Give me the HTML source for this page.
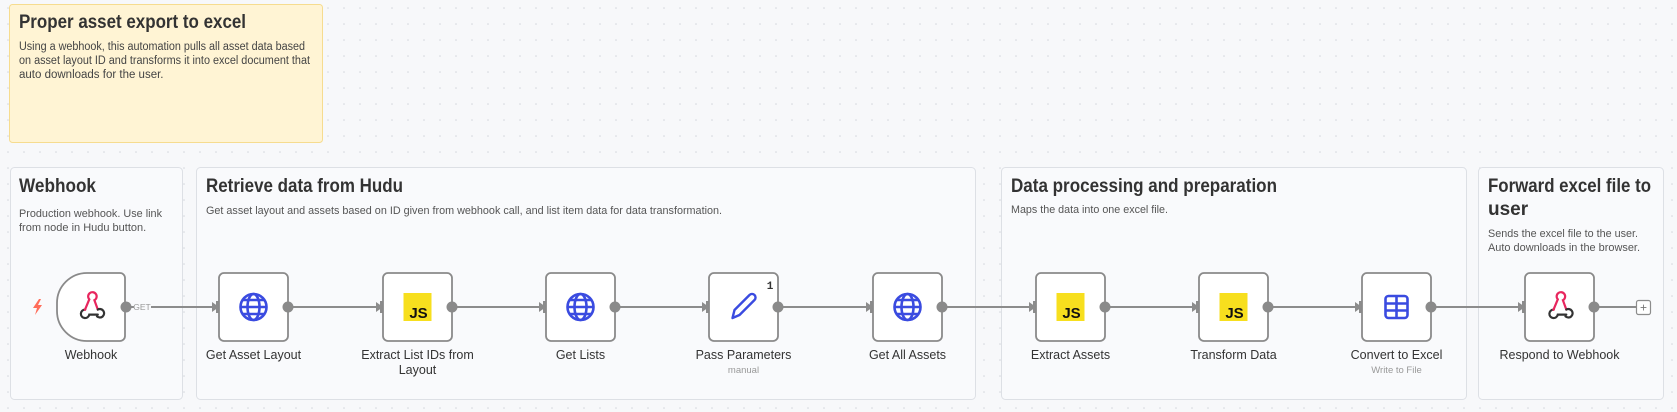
<!DOCTYPE html>
<html><head><meta charset="utf-8"><style>
html,body{margin:0;padding:0;background:#f7f8fa;}
svg{display:block;font-family:"Liberation Sans",sans-serif;}
</style></head><body>
<svg width="1677" height="412" viewBox="0 0 1677 412" xmlns="http://www.w3.org/2000/svg">
<defs>
<pattern id="dots" width="16" height="16" patternUnits="userSpaceOnUse"><circle cx="8" cy="8" r="0.8" fill="#d3d6dc"/></pattern>
<g id="globe" fill="none" stroke="#3a4be0" stroke-width="2.6"><circle cx="0" cy="0" r="13"/><ellipse cx="0" cy="0" rx="6" ry="13"/><line x1="-13" y1="0" x2="13" y2="0"/><path d="M-11 -7 H11 M-11 7 H11"/></g>
<g id="js"><rect x="-14" y="-14" width="28" height="28" fill="#f7df1e"/><text x="1" y="11" font-size="15" font-weight="700" text-anchor="middle" fill="#111">JS</text></g>
<g id="hook" fill="none" stroke-width="2.6" stroke-linecap="round" transform="scale(0.85)"><path d="M-2 -9 a5 5 0 1 1 6 1 L8 3" stroke="#e8265e"/><path d="M-2 -9 L-7 3" stroke="#e8265e"/><path d="M-7 3 a5 5 0 1 0 5 6 H8" stroke="#333"/><path d="M8 3 a5 5 0 1 1 -1 8" stroke="#333"/><circle cx="-7" cy="3" r="1.5" fill="#e8265e" stroke="none"/></g>
</defs>
<rect width="1677" height="412" fill="#f7f8fa"/>
<rect width="1677" height="412" fill="url(#dots)"/>

<!-- sticky -->
<rect x="9.5" y="4.5" width="313" height="138" rx="3" fill="#fff4d4" stroke="#f6dc8f"/>
<text x="19" y="28" font-size="19" font-weight="700" fill="#333" textLength="227" lengthAdjust="spacingAndGlyphs">Proper asset export to excel</text>
<g font-size="11.5" fill="#444">
<text x="19" y="50" textLength="286" lengthAdjust="spacingAndGlyphs">Using a webhook, this automation pulls all asset data based</text>
<text x="19" y="64" textLength="291" lengthAdjust="spacingAndGlyphs">on asset layout ID and transforms it into excel document that</text>
<text x="19" y="78">auto downloads for the user.</text>
</g>

<!-- groups -->
<g fill="#f9fafc" stroke="#dde0e5">
<rect x="10.5" y="167.5" width="172" height="232" rx="4"/>
<rect x="196.5" y="167.5" width="779" height="232" rx="4"/>
<rect x="1001.5" y="167.5" width="465" height="232" rx="4"/>
<rect x="1478.5" y="167.5" width="185" height="232" rx="4"/>
</g>
<g font-size="19" font-weight="700" fill="#333">
<text x="19" y="192" textLength="77" lengthAdjust="spacingAndGlyphs">Webhook</text>
<text x="206" y="192" textLength="197" lengthAdjust="spacingAndGlyphs">Retrieve data from Hudu</text>
<text x="1011" y="192" textLength="266" lengthAdjust="spacingAndGlyphs">Data processing and preparation</text>
<text x="1488" y="192" textLength="163" lengthAdjust="spacingAndGlyphs">Forward excel file to</text>
<text x="1488" y="215">user</text>
</g>
<g font-size="11" fill="#555">
<text x="19" y="217" textLength="143" lengthAdjust="spacingAndGlyphs">Production webhook. Use link</text>
<text x="19" y="231">from node in Hudu button.</text>
<text x="206" y="214" textLength="516" lengthAdjust="spacingAndGlyphs">Get asset layout and assets based on ID given from webhook call, and list item data for data transformation.</text>
<text x="1011" y="213" textLength="157" lengthAdjust="spacingAndGlyphs">Maps the data into one excel file.</text>
<text x="1488" y="237" textLength="150" lengthAdjust="spacingAndGlyphs">Sends the excel file to the user.</text>
<text x="1488" y="251" textLength="152" lengthAdjust="spacingAndGlyphs">Auto downloads in the browser.</text>
</g>

<!-- connectors -->
<g stroke="#8c8c8c" stroke-width="2" fill="none">
<line x1="126" y1="307" x2="134" y2="307"/><line x1="151" y1="307" x2="214" y2="307"/>
<line x1="288" y1="307" x2="378" y2="307"/>
<line x1="452" y1="307" x2="541" y2="307"/>
<line x1="615" y1="307" x2="704" y2="307"/>
<line x1="778" y1="307" x2="868" y2="307"/>
<line x1="942" y1="307" x2="1031" y2="307"/>
<line x1="1105" y1="307" x2="1194" y2="307"/>
<line x1="1268" y1="307" x2="1357" y2="307"/>
<line x1="1431" y1="307" x2="1520" y2="307"/>
<line x1="1594" y1="307" x2="1636" y2="307"/>
</g>
<text x="142" y="310" font-size="8.5" fill="#999" text-anchor="middle">GET</text>
<g fill="#8c8c8c">
<polygon points="212,302 219,307 212,312"/><rect x="216" y="301" width="4" height="12"/>
<polygon points="376,302 383,307 376,312"/><rect x="380" y="301" width="4" height="12"/>
<polygon points="539,302 546,307 539,312"/><rect x="543" y="301" width="4" height="12"/>
<polygon points="702,302 709,307 702,312"/><rect x="706" y="301" width="4" height="12"/>
<polygon points="866,302 873,307 866,312"/><rect x="870" y="301" width="4" height="12"/>
<polygon points="1029,302 1036,307 1029,312"/><rect x="1033" y="301" width="4" height="12"/>
<polygon points="1192,302 1199,307 1192,312"/><rect x="1196" y="301" width="4" height="12"/>
<polygon points="1355,302 1362,307 1355,312"/><rect x="1359" y="301" width="4" height="12"/>
<polygon points="1518,302 1525,307 1518,312"/><rect x="1522" y="301" width="4" height="12"/>
</g>
<rect x="1636.5" y="300.5" width="14" height="14" rx="2" fill="#fff" stroke="#8c8c8c" stroke-width="1.2"/>
<text x="1643.5" y="311.5" font-size="12" fill="#777" text-anchor="middle">+</text>

<!-- nodes -->
<g fill="#fff" stroke="#8a8a8a" stroke-width="1.8">
<path d="M87 273 H120 a5 5 0 0 1 5 5 V336 a5 5 0 0 1 -5 5 H87 a30 30 0 0 1 -30 -30 V303 a30 30 0 0 1 30 -30 Z"/>
<rect x="219" y="273" width="69" height="68" rx="5"/>
<rect x="383" y="273" width="69" height="68" rx="5"/>
<rect x="546" y="273" width="69" height="68" rx="5"/>
<rect x="709" y="273" width="69" height="68" rx="5"/>
<rect x="873" y="273" width="69" height="68" rx="5"/>
<rect x="1036" y="273" width="69" height="68" rx="5"/>
<rect x="1199" y="273" width="69" height="68" rx="5"/>
<rect x="1362" y="273" width="69" height="68" rx="5"/>
<rect x="1525" y="273" width="69" height="68" rx="5"/>
</g>
<g fill="#8a8a8a">
<circle cx="126" cy="307" r="5.5"/><circle cx="288" cy="307" r="5.5"/><circle cx="452" cy="307" r="5.5"/>
<circle cx="615" cy="307" r="5.5"/><circle cx="778" cy="307" r="5.5"/><circle cx="942" cy="307" r="5.5"/>
<circle cx="1105" cy="307" r="5.5"/><circle cx="1268" cy="307" r="5.5"/><circle cx="1431" cy="307" r="5.5"/>
<circle cx="1594" cy="307" r="5.5"/>
</g>
<!-- icons -->
<polygon points="39,299 33,308 37,308 35,315 42,305 38,305 41,299" fill="#ff6d5a"/>
<use href="#hook" x="91" y="307"/>
<use href="#globe" x="253.5" y="307"/>
<use href="#js" x="417.5" y="307"/>
<use href="#globe" x="580.5" y="307"/>
<g transform="translate(743.5,307)" fill="none" stroke="#3a4be0" stroke-width="2.4" stroke-linejoin="round"><path d="M-11 11 L-9 3 L6 -12 a3 3 0 0 1 5 5 L-4 8 Z"/></g>
<text x="770" y="289" font-size="11" font-weight="700" font-family="Liberation Mono,monospace" fill="#333" text-anchor="middle">1</text>
<use href="#globe" x="907.5" y="307"/>
<use href="#js" x="1070.5" y="307"/>
<use href="#js" x="1233.5" y="307"/>
<g transform="translate(1396.5,307)" fill="none" stroke="#3a4be0" stroke-width="2.6"><rect x="-11" y="-11" width="22" height="22" rx="3"/><line x1="-11" y1="-3.5" x2="11" y2="-3.5"/><line x1="-11" y1="3.5" x2="11" y2="3.5"/><line x1="0" y1="-11" x2="0" y2="11"/></g>
<use href="#hook" x="1559.5" y="307"/>

<!-- labels -->
<g font-size="12.5" fill="#333" text-anchor="middle">
<text x="91" y="359">Webhook</text>
<text x="253.5" y="359">Get Asset Layout</text>
<text x="417.5" y="359">Extract List IDs from</text>
<text x="417.5" y="374">Layout</text>
<text x="580.5" y="359">Get Lists</text>
<text x="743.5" y="359">Pass Parameters</text>
<text x="907.5" y="359">Get All Assets</text>
<text x="1070.5" y="359">Extract Assets</text>
<text x="1233.5" y="359">Transform Data</text>
<text x="1396.5" y="359">Convert to Excel</text>
<text x="1559.5" y="359">Respond to Webhook</text>
</g>
<g font-size="9.5" fill="#999" text-anchor="middle">
<text x="743.5" y="373">manual</text>
<text x="1396.5" y="373">Write to File</text>
</g>
</svg>
</body></html>
